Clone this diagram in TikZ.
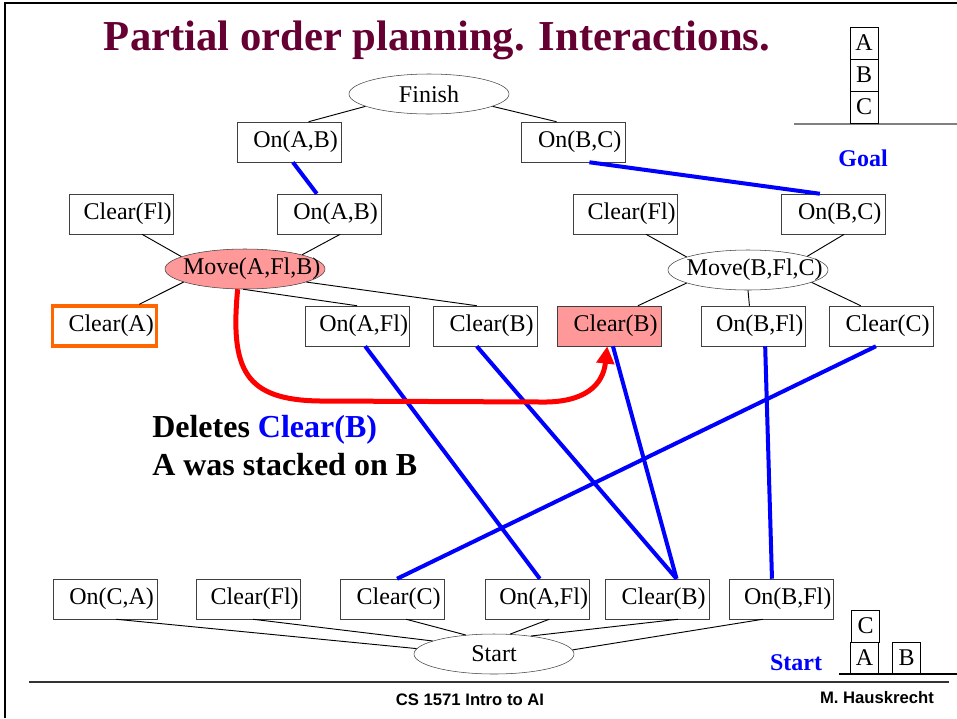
\documentclass[tikz,border=0pt]{standalone}
\usepackage{fontspec}
\setmainfont{Liberation Serif}
\newfontfamily\footfont{Liberation Sans}
\usepackage{tikz}
\usetikzlibrary{shapes.geometric, arrows.meta}
\definecolor{titlered}{HTML}{660033}
\definecolor{movepink}{HTML}{FF9999}
\definecolor{boxgray}{HTML}{404040}
\definecolor{clearorange}{HTML}{FF6600}
\newcommand{\nf}{\fontsize{18}{20}\selectfont}
\tikzset{
  fact/.style={draw=boxgray, fill=white, minimum width=78pt, minimum height=30pt, inner sep=0pt, font=\nf, execute at begin node=\hspace*{10pt}},
  act/.style={ellipse, draw=boxgray, fill=white, minimum width=120pt, minimum height=30pt, inner xsep=-16pt, inner ysep=0pt, font=\nf},
  mv/.style={act, execute at begin node=\hspace*{10pt}},
  blk/.style={draw, minimum width=21pt, minimum height=24pt, inner sep=0pt, font=\nf},
  link/.style={line width=0.7pt},
  cause/.style={blue, line width=3pt},
  threat/.style={red, line width=3.75pt, -{Triangle[length=13pt,width=13pt]}},
  txt/.style={inner sep=0pt}
}

\begin{document}
\begin{tikzpicture}[x=0.75pt,y=-0.75pt]
\useasboundingbox (0,0) rectangle (957,718);
% slide frame and footer
\draw[line width=2pt] (957,3) -- (5,3) -- (5,718);
\draw[line width=0.8pt, black!80] (29,682) -- (949,682);
\node[txt, font=\fontsize{32}{36}\selectfont\bfseries, text=titlered, anchor=base] (title) at (437,50) {Partial order planning. Interactions.};
\node[txt, font={\footfont\bfseries\fontsize{12.5}{14}\selectfont}] (course) at (470,700) {CS 1571 Intro to AI};
\node[txt, font={\footfont\bfseries\fontsize{12.5}{14}\selectfont}] (author) at (877,697.5) {M. Hauskrecht};
% goal stack
\draw[gray, line width=1pt] (794,124) -- (957,124);
\node[blk] (gA) at (864,43) {A};
\node[blk] (gB) at (864,75) {B};
\node[blk] (gC) at (864,107) {C};
\node[txt, font=\nf\bfseries, text=blue] (goal) at (863,158) {Goal};
% start stack
\draw[line width=1pt] (839,674) -- (957,674);
\node[blk] (sbC) at (865.5,626) {C};
\node[blk] (sbA) at (864.5,658) {A};
\node[blk] (sbB) at (906.5,658) {B};
\node[txt, font=\nf\bfseries, text=blue] (startlbl) at (796,663) {Start};
% goal steps
\node[act] (fin) at (429,94) {Finish};
\node[fact] (gAB) at (289,142) {On(A,B)};
\node[fact] (gBC) at (573,142) {On(B,C)};
% preconditions of the moves
\node[fact] (clFlA) at (121,214) {Clear(Fl)};
\node[fact] (onAB) at (329,214) {On(A,B)};
\node[fact] (clFlB) at (625,214) {Clear(Fl)};
\node[fact] (onBC) at (833,214) {On(B,C)};
\node[mv, fill=movepink] (mvA) at (245,269) {Move(A,Fl,B)};
\node[mv] (mvB) at (748,270) {Move(B,Fl,C)};
\node[fact, draw=clearorange, line width=2.5pt] (clA) at (104.5,326) {Clear(A)};
\node[fact] (onAFl) at (357,326) {On(A,Fl)};
\node[fact] (clB) at (485,326) {Clear(B)};
\node[fact, fill=movepink] (clBdel) at (609,326) {Clear(B)};
\node[fact] (onBFl) at (753,326) {On(B,Fl)};
\node[fact] (clC) at (881,326) {Clear(C)};
% start step
\node[fact] (sCA) at (105,599) {On(C,A)};
\node[fact] (sFl) at (248,599) {Clear(Fl)};
\node[fact] (sC) at (392,599) {Clear(C)};
\node[fact] (sAFl) at (537,599) {On(A,Fl)};
\node[fact] (sB) at (657,599) {Clear(B)};
\node[fact] (sBFl) at (781,599) {On(B,Fl)};
\node[act] (start) at (494,654) {Start};
% thin links
\draw[link] (fin.-169) -- (gAB.46);
\draw[link] (fin.-11) -- (gBC.129);
\draw[link] (clFlA.-44) -- (mvA.169);
\draw[link] (onAB.-61) -- (mvA.14);
\draw[link] (mvA.-168) -- (clA.32);
\draw[link] (mvA.-95) -- (onAFl.north);
\draw[link] (mvA.-12) -- (clB.112);
\draw[link] (clFlB.-44) -- (mvB.168);
\draw[link] (onBC.-61) -- (mvB.13);
\draw[link] (mvB.-168) -- (clBdel.35);
\draw[link] (mvB.south) -- (onBFl.100);
\draw[link] (mvB.-11) -- (clC.135);
\draw[link] (sCA.-61) -- (start.176);
\draw[link] (sFl.-76) -- (start.168);
\draw[link] (sC.-55) -- (start.146);
\draw[link] (sAFl.-59) -- (start.51);
\draw[link] (sB.-44) -- (start.26);
\draw[link] (sBFl.-132) -- (start.3);
% causal links
\draw[cause] (gAB.-79) -- (onAB.121);
\draw[cause] (gBC.-51) -- (onBC.123);
\draw[cause] (onAFl.-68) -- (sAFl.82);
\draw[cause] (clB.-112) -- (sB.46);
\draw[cause] (clBdel.-79) -- (sB.46);
\draw[cause] (onBFl.-59) -- (sBFl.114);
\draw[cause] (clC.-104) -- (sC.76);
% the threat
\draw[threat] (mvA.-110) .. controls (230,370) and (245,400) .. (320,401) -- (540,402) .. controls (585,403) and (603,385) .. (clBdel.-95);
\node[txt, anchor=base west, font=\fontsize{24}{28}\selectfont\bfseries] (del) at (152,437) {Deletes \textcolor{blue}{Clear(B)}};
\node[txt, anchor=base west, font=\fontsize{24}{28}\selectfont\bfseries] (why) at (152,475) {A was stacked on B};
\end{tikzpicture}
\end{document}
